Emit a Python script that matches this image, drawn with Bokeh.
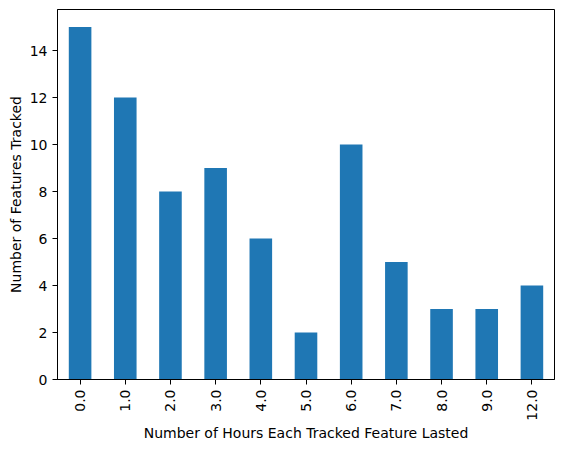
import math
from bokeh.plotting import figure
from bokeh.models import ColumnDataSource, FixedTicker, Range1d
from bokeh.embed import file_html
from bokeh.resources import INLINE

hours = ["0.0", "1.0", "2.0", "3.0", "4.0", "5.0", "6.0", "7.0", "8.0", "9.0", "12.0"]
counts = [15, 12, 8, 9, 6, 2, 10, 5, 3, 3, 4]
y_ticks = [0, 2, 4, 6, 8, 10, 12, 14]

xs = list(range(len(hours)))
src = ColumnDataSource(dict(x=xs, top=counts))

p = figure(width=561, height=447, output_backend="svg", toolbar_location=None,
           x_range=Range1d(-0.5, len(hours) - 0.5),
           y_range=Range1d(0, max(counts) * 1.05),
           min_border_left=57, min_border_top=9, min_border_right=7, min_border_bottom=68)
p.frame_width = 497
p.frame_height = 370

p.vbar(x="x", top="top", width=0.5, bottom=0, source=src, color="#1f77b4", line_color=None)

p.grid.visible = False
p.outline_line_color = "black"
p.outline_line_width = 1

p.xaxis.ticker = FixedTicker(ticks=xs)
p.xaxis.major_label_overrides = {i: h for i, h in enumerate(hours)}
p.xaxis.major_label_orientation = math.pi / 2
p.yaxis.ticker = FixedTicker(ticks=y_ticks)

for ax in (p.xaxis[0], p.yaxis[0]):
    ax.minor_tick_line_color = None
    ax.major_tick_out = 5
    ax.major_tick_in = 0
    ax.axis_line_color = "black"
    ax.major_label_text_font = "DejaVu Sans"
    ax.major_label_text_font_size = "14px"
    ax.major_label_text_color = "black"
    ax.axis_label_text_font = "DejaVu Sans"
    ax.axis_label_text_font_size = "14px"
    ax.axis_label_text_font_style = "normal"
    ax.axis_label_text_color = "black"

p.xaxis.axis_label = "Number of Hours Each Tracked Feature Lasted"
p.yaxis.axis_label = "Number of Features Tracked"
p.xaxis.axis_label_standoff = 1
p.yaxis.axis_label_standoff = 3

open("out.html", "w").write(file_html(p, INLINE))
